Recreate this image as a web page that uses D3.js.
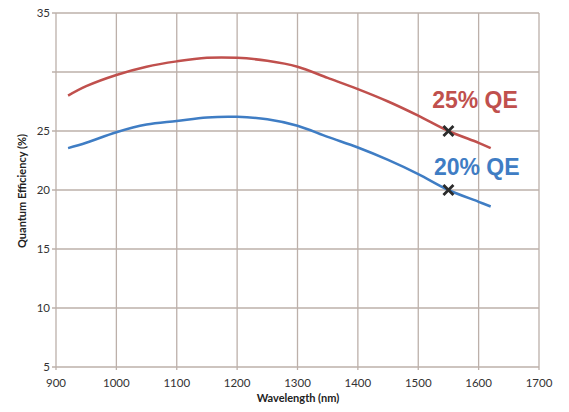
<!DOCTYPE html>
<html>
<head>
<meta charset="utf-8">
<script src="https://cdn.jsdelivr.net/npm/d3@7"></script>
<style>
  body { margin: 0; background: #fff; }
  text { font-family: Lato, "Open Sans", sans-serif; }
</style>
</head>
<body>
<svg id="chart" width="569" height="412"></svg>
<script>
// values
const wavelengths = [920, 950, 1000, 1050, 1100, 1150, 1200, 1250, 1300, 1350, 1400, 1450, 1500, 1550, 1600, 1620]
const qe25 = [28.0, 28.8, 29.75, 30.45, 30.9, 31.2, 31.2, 30.95, 30.45, 29.5, 28.55, 27.5, 26.3, 25.0, 24.0, 23.55]
const qe20 = [23.55, 24.0, 24.9, 25.55, 25.85, 26.15, 26.2, 26.0, 25.45, 24.5, 23.6, 22.55, 21.35, 20.0, 19.0, 18.6]
const xTicks = [900, 1000, 1100, 1200, 1300, 1400, 1500, 1600, 1700]
const yGrid = [5, 10, 15, 20, 25, 30, 35]
const yLabels = [5, 10, 15, 20, 25, 35] // no "30" label in the original
const markers = [{ wl: 1550, qe: 25 }, { wl: 1550, qe: 20 }]
const seriesLabels = [
  { text: '25% QE', wl: 1523, qe: 26.95, color: '#c0504d' },
  { text: '20% QE', wl: 1526, qe: 21.27, color: '#3f7dc4' }
]

const svg = d3.select('#chart')
const plotLeft = 56, plotRight = 539, plotTop = 13, plotBottom = 367

const x = d3.scaleLinear().domain([900, 1700]).range([plotLeft, plotRight])
const y = d3.scaleLinear().domain([5, 35]).range([plotBottom, plotTop])

const gridColor = '#bcb0aa'

// grid
svg.append('g').selectAll('line')
  .data(xTicks)
  .enter().append('line')
  .attr('x1', d => x(d)).attr('x2', d => x(d))
  .attr('y1', plotTop).attr('y2', plotBottom + 3)
  .attr('stroke', gridColor).attr('stroke-width', 1.3)

svg.append('g').selectAll('line')
  .data(yGrid)
  .enter().append('line')
  .attr('x1', plotLeft - 4).attr('x2', plotRight)
  .attr('y1', d => y(d)).attr('y2', d => y(d))
  .attr('stroke', gridColor).attr('stroke-width', 1.3)

// tick labels
svg.append('g').selectAll('text')
  .data(yLabels)
  .enter().append('text')
  .attr('x', plotLeft - 6)
  .attr('y', d => y(d))
  .attr('dy', '0.35em')
  .attr('text-anchor', 'end')
  .attr('font-size', 11.5)
  .attr('fill', '#333')
  .text(d => d)

svg.append('g').selectAll('text')
  .data(xTicks)
  .enter().append('text')
  .attr('x', d => x(d))
  .attr('y', plotBottom + 16)
  .attr('dy', '0.35em')
  .attr('text-anchor', 'middle')
  .attr('font-size', 11.5)
  .attr('fill', '#333')
  .text(d => d)

// axis titles
svg.append('text')
  .attr('x', 298).attr('y', 402)
  .attr('text-anchor', 'middle')
  .attr('font-size', 11)
  .attr('font-weight', 'bold')
  .attr('fill', '#222')
  .text('Wavelength (nm)')

svg.append('text')
  .attr('transform', 'translate(26,191) rotate(-90)')
  .attr('text-anchor', 'middle')
  .attr('font-size', 11)
  .attr('font-weight', 'bold')
  .attr('fill', '#222')
  .text('Quantum Efficiency (%)')

// curves
const line = d3.line()
  .x((d, i) => x(wavelengths[i]))
  .y(d => y(d))
  .curve(d3.curveCatmullRom.alpha(0.5))

svg.append('path')
  .attr('d', line(qe25))
  .attr('fill', 'none')
  .attr('stroke', '#c0504d')
  .attr('stroke-width', 2.5)

svg.append('path')
  .attr('d', line(qe20))
  .attr('fill', 'none')
  .attr('stroke', '#3f7dc4')
  .attr('stroke-width', 2.5)

// X markers
const s = 5
const mk = svg.append('g').selectAll('g')
  .data(markers)
  .enter().append('g')
  .attr('transform', d => `translate(${x(d.wl)},${y(d.qe)})`)
mk.append('path')
  .attr('d', `M${-s},${-s}L${s},${s}M${-s},${s}L${s},${-s}`)
  .attr('stroke', '#2b2b2b')
  .attr('stroke-width', 2.8)

// series labels
svg.append('g').selectAll('text')
  .data(seriesLabels)
  .enter().append('text')
  .attr('x', d => x(d.wl))
  .attr('y', d => y(d.qe))
  .style('font-family', '"Liberation Sans", Arial, sans-serif')
  .style('font-size', '23px')
  .style('font-weight', 'bold')
  .attr('fill', d => d.color)
  .text(d => d.text)
</script>
</body>
</html>
